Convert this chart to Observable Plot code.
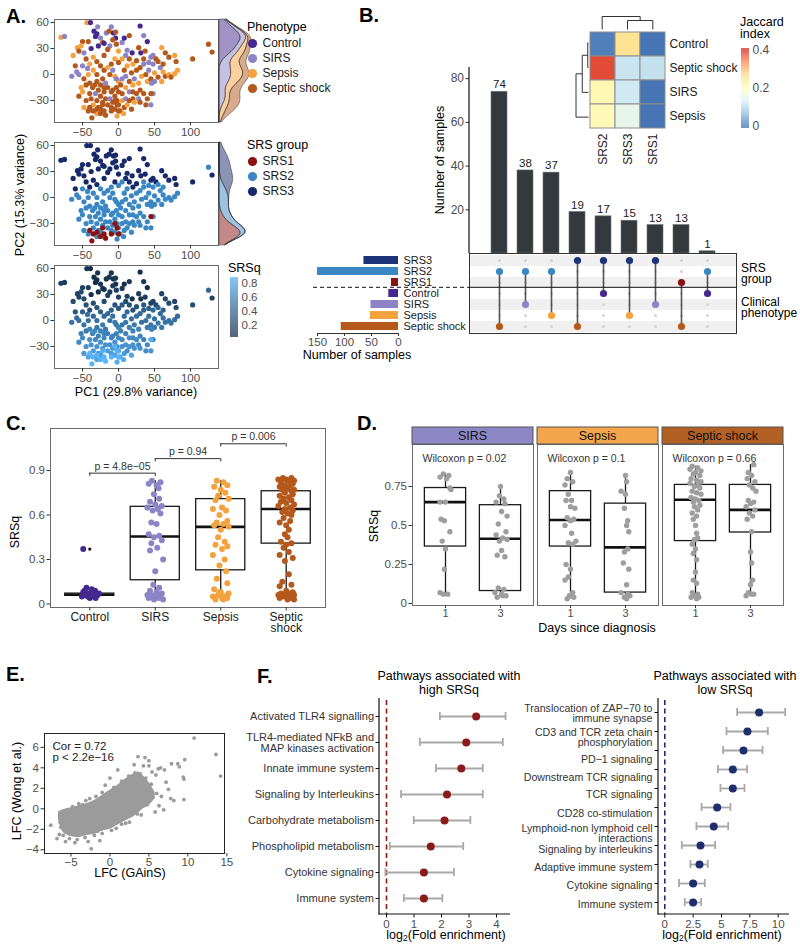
<!DOCTYPE html>
<html><head><meta charset="utf-8">
<script src="https://cdn.jsdelivr.net/npm/d3@7"></script>
<script src="https://cdn.jsdelivr.net/npm/@observablehq/plot@0.6"></script>
<style>
body{margin:0;background:#fff;}
#fig{position:relative;width:800px;height:949px;overflow:hidden;background:#fff;}
</style></head>
<body><div id="fig"></div>
<script>
// ================= DATA =================
const phenoNames = ["Control","SIRS","Sepsis","Septic shock"];
const phenoColors = ["#45288f","#8c84c6","#f4a23e","#b4581c"];
const srsNames = ["SRS1","SRS2","SRS3"];
const srsColors = ["#8c1212","#3b87c3","#17296a"];

// Panel A: PCA coordinates [PC1, PC2, phenotype index, SRS group, SRSq]
const pcaRows = [
[-44,60,2,3,.10],[-39,60,0,3,.04],[-29,55,1,3,.08],[-34,50,0,3,.05],[-30,47,0,3,.06],[-32,44,0,3,.05],[-17,48,1,3,.10],[-13,50,3,3,.12],
[-7,48,0,3,.05],[-4,49,3,3,.14],[-4,42,0,3,.07],[-8,40,3,3,.15],[5,37,1,3,.12],[8,42,0,3,.06],[30,56,0,3,.05],[-80,43,2,3,.20],
[-75,44,1,3,.16],[-50,38,3,3,.20],[-57,31,2,3,.22],[-55,27,3,3,.20],[-52,33,2,3,.24],[-42,38,3,3,.18],[-38,30,0,3,.06],[-28,33,0,3,.06],
[-22,37,3,3,.15],[-20,36,0,3,.05],[-12,33,1,3,.15],[-15,29,3,3,.20],[40,38,0,3,.05],[31,25,0,3,.08],[19,25,0,3,.07],[37,27,3,3,.15],
[28,31,3,3,.18],[12,28,1,3,.18],[0,27,2,3,.20],[45,20,1,3,.22],[48,22,1,3,.20],[60,31,2,3,.20],[65,25,3,3,.25],[78,22,2,3,.22],
[80,15,3,3,.26],[130,26,3,3,.20],[103,18,3,3,.28],[-40,12,2,3,.30],[-30,15,3,3,.30],[20,12,2,3,.30],[-60,10,3,3,.32],[-45,18,3,3,.30],
[-35,20,2,3,.26],[-20,22,3,3,.26],[-5,18,2,3,.30],[15,18,3,3,.30],[25,16,3,3,.30],[-25,42,1,3,.12],[-10,55,1,3,.10],[15,45,3,3,.14],
[52,18,3,3,.25],[70,20,3,3,.24],[-48,25,1,3,.25],[-63,22,2,3,.26],[10,22,1,3,.25],[-3,35,3,3,.18],[35,45,1,3,.12],
[125,35,3,2,.45],[-58,3,1,2,.45],[-43,7,1,2,.50],[-48,-5,3,2,.50],[-45,-12,3,2,.55],[-40,-10,3,2,.60],[-36,-15,3,2,.60],[-33,-12,3,2,.65],
[-30,-8,3,2,.55],[-28,-18,3,2,.60],[-25,-12,3,2,.60],[-22,-5,3,2,.55],[-20,-15,3,2,.60],[-18,-10,1,2,.55],[-35,5,2,2,.45],[-25,10,3,2,.40],
[-20,5,3,2,.45],[-15,8,2,2,.45],[-10,12,3,2,.40],[-8,5,1,2,.50],[-5,-2,2,2,.55],[0,-8,2,2,.60],[-3,-15,3,2,.60],[-10,-20,3,2,.65],
[-5,-25,3,2,.70],[0,-20,3,2,.65],[3,-12,3,2,.60],[5,-5,1,2,.55],[8,5,3,2,.50],[10,-2,1,2,.55],[12,10,2,2,.45],[15,-8,3,2,.60],
[18,2,3,2,.50],[22,-5,1,2,.55],[25,5,3,2,.50],[28,-10,2,2,.60],[30,8,3,2,.45],[32,-2,2,2,.50],[35,12,1,2,.40],[38,0,3,2,.50],
[40,-8,2,2,.55],[42,5,1,2,.50],[45,-5,3,2,.55],[48,12,1,2,.45],[50,2,2,2,.50],[55,-3,3,2,.55],[58,8,1,2,.45],[62,3,2,2,.50],
[65,-2,3,2,.50],[70,0,2,2,.50],[73,-3,3,2,.50],[78,1,2,2,.50],[50,-8,1,2,.55],[46,-10,1,2,.60],[30,-18,3,2,.60],[25,-22,3,2,.65],
[20,-28,3,2,.70],[15,-20,1,2,.65],[10,-15,2,2,.60],[-50,-20,2,2,.65],[-55,0,1,2,.50],[0,14,3,2,.35],[5,18,2,2,.35],[35,18,3,2,.35],
[42,14,1,2,.40],[55,15,3,2,.40],[-65,-2,1,2,.50],[-38,-28,3,2,.70],[-35,-35,2,2,.75],[-30,-30,3,2,.70],[-28,-38,3,2,.75],[-25,-25,3,2,.70],
[-22,-32,3,2,.75],[-18,-28,3,2,.70],[-15,-35,3,2,.75],[-12,-28,1,2,.70],[-10,-38,3,2,.75],[-8,-32,3,2,.70],[-5,-40,3,2,.80],[-2,-30,3,2,.70],
[0,-35,3,2,.75],[2,-42,3,2,.80],[5,-30,2,2,.70],[8,-38,3,2,.75],[10,-28,1,2,.70],[12,-35,2,2,.70],[15,-30,3,2,.70],[20,-20,3,2,.65],
[22,-32,2,2,.70],[-40,-22,3,2,.70],[-45,-30,3,2,.70],[-48,-38,2,2,.75],[-42,-42,3,2,.80],[-55,-25,3,2,.65],[-52,-15,2,2,.60],[-2,-48,2,2,.85],
[5,-22,3,2,.65],[35,-22,3,2,.60],[40,-28,3,2,.65],[38,-35,3,2,.65],[48,-22,1,2,.60],[28,-28,1,2,.65],[-32,-22,1,2,.65],[-20,-20,3,2,.65],
[-15,-15,3,2,.60],[-8,-18,3,2,.60],[-3,-5,1,2,.55],[-12,0,3,2,.50],[20,-12,2,2,.60],[-30,0,3,2,.50],[-42,0,2,2,.50],[60,-8,2,2,.55],
[82,5,2,2,.45],[-25,-40,3,2,.75],[-30,-45,2,2,.80],[18,-40,3,2,.80],[30,-32,3,2,.70],[7,-45,2,2,.85],[62,12,3,2,.40],[-50,10,1,2,.40],[45,-35,1,2,.70],
[-37,-50,3,1,.90],[-35,-42,3,1,.88],[-30,-40,3,1,.88],[-25,-45,3,1,.90],[-20,-42,3,1,.90],[-18,-47,3,1,.92],[-22,-35,3,1,.87],
[-10,-42,3,1,.90],[-5,-30,3,1,.88],[-2,-35,3,1,.88],[0,-42,3,1,.90],[45,-22,3,1,.86],[-40,-38,3,1,.90]
];
const aTicksX = [-50,0,50,100];
const aTicksY = [-30,0,30,60];
const srsqTicks = [0.2,0.4,0.6,0.8];

// Panel B: Jaccard heatmap
const jacCols = ["SRS2","SRS3","SRS1"];
const jacRows = ["Control","Septic shock","SIRS","Sepsis"];
const jacValues = [[0.01,0.26,0.0],[0.38,0.115,0.11],[0.215,0.12,0.0],[0.21,0.15,0.0]];
const jacStops = [0,0.0667,0.1333,0.2,0.2667,0.3333,0.4];
const jacPalette = ["#4575b4","#91bfdb","#e0f3f8","#ffffbf","#fee090","#fc8d59","#d73027"];
const jacTicks = [0,0.2,0.4];
const colMerges = [[1,2,0.69],[0,3,1]];          // leaves SRS2,SRS3,SRS1
const rowMerges = [[2,3,0.06],[1,4,0.5],[0,5,1]]; // leaves Control,Septic shock,SIRS,Sepsis

// Panel B: UpSet
const upsetCounts = [74,38,37,19,17,15,13,13,1];
const upsetSRS = ["SRS2","SRS2","SRS2","SRS3","SRS3","SRS3","SRS3","SRS1","SRS2"];
const upsetPheno = ["Septic shock","SIRS","Sepsis","Septic shock","Control","Sepsis","SIRS","Septic shock","Control"];
const setRows = ["SRS3","SRS2","SRS1","Control","SIRS","Sepsis","Septic shock"];
const setSizes = [64,150,13,18,51,52,106];
const setColors = ["#1d3378","#3b87c3","#8c1212","#45288f","#8c84c6","#f4a23e","#b4581c"];
const stripeRows = ["SRS3","SRS1","SIRS","Septic shock"];
const upsetTicks = [20,40,60,80];
const setTicks = [150,100,50,0];

// Panel C: SRSq by phenotype  [value, jitter]
const cControl = [[0.37,-0.1],[0.11,-0.05],[0.10,0.03],[0.09,0.08],[0.08,-0.1],[0.08,0.05],[0.07,-0.02],[0.07,0.1],[0.06,-0.07],[0.06,0.02],[0.06,0.12],[0.05,-0.03],[0.05,0.06],[0.05,-0.12],[0.04,0.0],[0.04,0.09],[0.07,0.14],[0.09,-0.08]];
const cSIRS = [[0.83,-0.05],[0.82,0.08],[0.81,-0.1],[0.80,0.02],[0.78,0.05],[0.74,-0.02],[0.71,0.06],[0.69,-0.08],[0.67,0.0],[0.66,0.1],[0.65,-0.12],[0.64,0.04],[0.63,-0.04],[0.61,0.08],[0.55,-0.06],[0.54,0.02],[0.47,-0.1],[0.46,0.06],[0.45,-0.02],[0.43,0.1],[0.41,-0.06],[0.38,0.03],[0.36,-0.08],[0.30,0.12],[0.22,0.0],[0.13,-0.03],[0.11,0.06],[0.09,-0.08],[0.08,0.02],[0.07,0.1],[0.06,-0.12],[0.06,0.05],[0.05,-0.04],[0.05,0.08],[0.04,0.0],[0.04,-0.1],[0.03,0.12],[0.03,-0.02],[0.04,0.06],[0.06,-0.06]];
const cSepsis = [[0.83,-0.06],[0.82,0.04],[0.80,0.1],[0.79,-0.1],[0.77,0.0],[0.75,0.07],[0.73,-0.04],[0.71,0.12],[0.70,-0.08],[0.65,0.02],[0.64,-0.12],[0.63,0.08],[0.60,-0.02],[0.56,0.1],[0.55,-0.06],[0.54,0.04],[0.53,-0.1],[0.52,0.12],[0.50,0.0],[0.45,-0.04],[0.42,0.06],[0.40,-0.08],[0.39,0.1],[0.37,0.02],[0.33,-0.12],[0.30,0.06],[0.26,-0.02],[0.22,0.08],[0.17,-0.06],[0.14,0.1],[0.10,-0.1],[0.08,0.0],[0.07,0.12],[0.06,-0.04],[0.05,0.06],[0.05,-0.12],[0.04,0.02],[0.04,0.1],[0.03,-0.08],[0.03,0.04],[0.06,0.1],[0.08,-0.02]];
const cShock = [[0.85,-0.05],[0.85,0.08],[0.84,0.0],[0.84,-0.12],[0.83,0.12],[0.83,0.04],[0.82,-0.08],[0.81,0.1],[0.80,-0.02],[0.80,0.06],[0.79,-0.1],[0.78,0.02],[0.77,0.12],[0.77,-0.06],[0.76,0.08],[0.75,-0.02],[0.74,0.1],[0.73,-0.1],[0.72,0.04],[0.71,-0.04],[0.70,0.08],[0.69,-0.08],[0.68,0.0],[0.67,0.12],[0.66,-0.12],[0.65,0.06],[0.64,-0.02],[0.63,0.1],[0.62,-0.06],[0.61,0.02],[0.60,0.08],[0.58,-0.04],[0.56,0.06],[0.55,-0.1],[0.53,0.0],[0.50,0.04],[0.47,-0.02],[0.45,0.02],[0.42,-0.08],[0.41,0.08],[0.40,0.0],[0.38,-0.04],[0.35,0.04],[0.33,-0.1],[0.31,0.1],[0.29,-0.02],[0.20,0.04],[0.15,-0.06],[0.13,0.08],[0.12,-0.1],[0.09,0.0],[0.08,0.1],[0.07,-0.08],[0.07,0.04],[0.06,-0.12],[0.06,0.12],[0.05,0.0],[0.05,-0.04],[0.04,0.08],[0.04,-0.1],[0.03,0.02],[0.03,0.12],[0.05,0.06],[0.06,-0.02]];
const cLo = [0.04,0.02,0.02,0.02];
const cQ1 = [0.055,0.16,0.227,0.407];
const cMed = [0.062,0.455,0.52,0.64];
const cQ3 = [0.07,0.655,0.707,0.76];
const cHi = [0.09,0.83,0.83,0.85];
const cOutliers = [[0,0.37]];
const cBrackets = [[1,2,0.882,"p = 4.8e−05"],[2,3,0.98,"p = 0.94"],[3,4,1.08,"p = 0.006"]];
const cTicks = [0,0.3,0.6,0.9];

// Panel D: SRSq by day since diagnosis  [value, jitter]
const dFacets = ["SIRS","Sepsis","Septic shock"];
const dStripColors = ["#8e87c6","#f3a64b","#b26024"];
const dWilcox = ["Wilcoxon p = 0.02","Wilcoxon p = 0.1","Wilcoxon p = 0.66"];
const dDays = ["1","3"];
const dPoints = [
 [ // SIRS
  [[0.83,-0.04],[0.82,0.06],[0.81,-0.1],[0.80,0.02],[0.74,0.08],[0.73,0.1],[0.65,-0.1],[0.65,0.0],[0.54,-0.08],[0.53,-0.02],[0.46,0.08],[0.40,-0.06],[0.35,0.0],[0.22,-0.02],[0.07,-0.1],[0.06,0.04],[0.06,-0.04]],
  [[0.75,0.0],[0.69,-0.02],[0.67,0.06],[0.65,-0.08],[0.64,0.08],[0.59,0.02],[0.56,0.12],[0.51,-0.04],[0.46,0.1],[0.44,-0.08],[0.42,0.04],[0.41,0.12],[0.40,-0.02],[0.34,0.02],[0.31,-0.06],[0.30,0.08],[0.10,-0.04],[0.09,0.06],[0.07,-0.1],[0.06,0.02],[0.05,0.1],[0.04,-0.06],[0.05,0.04]]
 ],
 [ // Sepsis
  [[0.84,0.0],[0.80,-0.06],[0.78,0.04],[0.76,-0.1],[0.70,-0.04],[0.66,0.02],[0.66,-0.08],[0.62,0.0],[0.61,0.08],[0.55,-0.06],[0.54,0.06],[0.53,0.0],[0.50,-0.1],[0.45,0.02],[0.40,0.1],[0.39,-0.04],[0.38,0.04],[0.25,-0.08],[0.22,0.0],[0.17,-0.04],[0.15,-0.1],[0.07,0.04],[0.05,-0.02],[0.04,0.06],[0.03,-0.06]],
  [[0.82,0.0],[0.78,0.02],[0.72,-0.08],[0.70,0.0],[0.61,-0.02],[0.53,0.04],[0.50,0.02],[0.46,0.06],[0.35,0.04],[0.33,-0.02],[0.26,-0.04],[0.22,0.06],[0.12,0.02],[0.07,-0.08],[0.06,0.04],[0.05,0.08],[0.04,-0.02],[0.03,0.02]]
 ],
 [ // Septic shock
  [[0.88,-0.06],[0.87,0.04],[0.86,-0.1],[0.85,0.1],[0.84,0.0],[0.83,-0.04],[0.82,0.08],[0.80,-0.08],[0.79,0.02],[0.78,0.1],[0.77,-0.1],[0.76,0.04],[0.75,-0.02],[0.74,0.08],[0.72,-0.06],[0.71,0.02],[0.70,0.1],[0.68,-0.08],[0.67,0.0],[0.66,0.06],[0.65,-0.04],[0.63,0.08],[0.62,-0.02],[0.60,0.04],[0.58,-0.06],[0.56,0.02],[0.54,-0.04],[0.50,0.0],[0.45,0.02],[0.42,0.04],[0.41,-0.02],[0.38,-0.06],[0.35,0.0],[0.32,-0.04],[0.28,0.02],[0.20,0.0],[0.15,-0.04],[0.13,0.02],[0.07,-0.06],[0.06,0.04],[0.05,-0.02],[0.04,0.06],[0.04,-0.08],[0.03,0.02]],
  [[0.89,0.06],[0.84,-0.04],[0.82,0.02],[0.80,-0.06],[0.78,0.08],[0.76,-0.02],[0.74,0.04],[0.72,0.1],[0.66,-0.04],[0.65,0.06],[0.64,0.0],[0.62,-0.08],[0.60,0.08],[0.58,-0.02],[0.56,0.04],[0.54,-0.06],[0.46,0.02],[0.33,0.0],[0.26,0.02],[0.15,0.04],[0.12,0.0],[0.07,-0.04],[0.06,0.06],[0.06,0.02],[0.05,-0.08]]
 ]
];
// box stats per facet: [lo, q1, med, q3, hi] for day 1 and day 3
const dBoxes = [
 [[0.05,0.365,0.65,0.74,0.83],[0.04,0.08,0.415,0.63,0.755]],
 [[0.03,0.365,0.535,0.72,0.84],[0.03,0.07,0.36,0.64,0.82]],
 [[0.03,0.40,0.665,0.76,0.88],[0.05,0.455,0.60,0.76,0.89]]
];
const dTicks = [0,0.25,0.5,0.75];

// Panel E: LFC comparison
const eCloudX  = [-6.6,-6.0,-5.0,-4.0,-3.0,-2.0,-1.0,0.0,1.0,2.0,3.0,3.7,4.3,5.0,5.8];
const eCloudLo = [-1.0,-2.3,-2.7,-2.8,-2.6,-2.5,-2.2,-2.0,-1.6,-1.2,-0.8,-0.4,0.0,0.3,1.0];
const eCloudHi = [-0.3,-0.1,0.1,0.3,0.5,0.8,1.3,1.8,2.3,2.9,3.4,3.6,3.2,2.6,1.6];
const ePoints = [[10.8,6.9],[13.6,5.3],[14.2,3.2],[9.6,4.8],[9.4,3.1],[9.5,2.9],[9.5,0.9],[8.7,4.4],[8.9,4.1],[7.9,4.4],[7.5,1.9],[7.8,1.0],[8.2,0.8],[6.9,-0.1],[5.8,-0.3],
 [3.6,5.1],[4.5,5.0],[5.0,4.7],[3.1,4.3],[4.3,4.2],[5.0,4.2],[6.2,3.9],[6.5,4.0],[7.0,3.8],[1.0,3.8],[0.0,3.0],[-0.6,2.3],[-3.1,0.8],[-7.6,-1.6],[-6.4,-1.3],
 [-6.5,-2.5],[-6.8,-2.9],[-5.7,-3.2],[-4.5,-3.3],[-1.3,-3.1],[-2.4,-3.9],[-1.6,-2.2],[6.0,1.5],[6.6,1.2],[5.4,3.6],[5.9,3.3],[7.2,2.6],[2.5,-1.3],[4.0,-0.6],[6.3,0.3],
 [-6.2,-0.4],[-5.5,-0.1],[-4.8,0.2],[-4.0,0.5],[-3.5,0.4],[-2.6,1.0],[-1.8,1.2],[-1.0,1.6],[0.5,2.1],[1.5,2.7],[2.4,3.2],[3.2,3.5],[3.9,3.4],[4.6,3.0],[5.3,2.4],
 [5.5,1.1],[4.8,0.4],[3.5,-0.5],[1.5,-1.5],[0.2,-2.1],[-1.0,-2.4],[-2.0,-2.6],[-3.2,-2.8],[-4.2,-3.0],[-5.2,-2.9],[-6.0,-2.6],[-6.3,-1.8],[-2.8,-3.2],[0.8,-1.9],[2.0,-1.4]];
const eTicksX = [-5,0,5,10,15];
const eTicksY = [-4,-2,0,2,4,6];

// Panel F: pathway enrichment
const highPaths = ["Activated TLR4 signalling","TLR4-mediated NFkB and\nMAP kinases activation","Innate immune system","Signaling by Interleukins","Carbohydrate metabolism","Phospholipid metabolism","Cytokine signaling","Immune system"];
const highFE = [3.26,2.90,2.72,2.20,2.11,1.61,1.36,1.36];
const highLo = [1.94,1.21,1.80,0.53,0.99,0.12,-0.04,0.63];
const highHi = [4.33,4.23,3.50,3.50,3.05,2.79,2.45,2.03];
const lowPaths = ["Translocation of ZAP−70 to\nimmune synapse","CD3 and TCR zeta chain\nphosphorylation","PD−1 signaling","Downstream TCR signaling","TCR signaling","CD28 co-stimulation","Lymphoid-non lymphoid cell\ninteractions","Signaling by interleukins","Adaptive immune system","Cytokine signaling","Immune system"];
const lowLabelShift = [1,6,9,8,6,6,7,4,3,2,2];  // label offset (px) seen in the reference
const lowFE = [8.32,7.29,6.94,6.00,6.00,4.62,4.32,3.15,3.06,2.50,2.50];
const lowLo = [6.38,5.44,5.15,4.68,4.91,3.24,2.79,1.50,2.26,1.26,1.76];
const lowHi = [10.62,9.09,8.62,7.26,7.03,5.79,5.59,4.44,3.79,3.53,3.20];
const highTicks = [0,1,2,3,4];
const lowTicks = [0,2.5,5,7.5,10];

// ================= HELPERS =================
const W = 800, H = 949;
const FONT = '"Liberation Sans", Arial, sans-serif';
const fig = document.getElementById("fig");
function P(rect, opts) {
  const [l, t, r, b] = rect;
  const svg = Plot.plot({
    width: W, height: H,
    marginLeft: l, marginTop: t, marginRight: W - r, marginBottom: H - b,
    style: {position: "absolute", left: "0px", top: "0px", background: "transparent", overflow: "visible",
            maxWidth: "none", fontFamily: FONT, fontSize: "11px", color: "#4d4d4d", pointerEvents: "none"},
    ...opts
  });
  fig.appendChild(svg);
  return svg;
}
const str = d => String(d);

// ================= PANEL A =================
const pca = pcaRows.map(([x, y, p, s, q]) => ({x, y, pheno: phenoNames[p], srs: srsNames[s - 1], srsq: q}));
const aDomX = [-88.9, 138.9], aDomY = [-55.4, 63.5];
const aRects = [[54,19,218,122],[54,142,218,245],[54,265,218,368]];
const phenoColor = {domain: phenoNames, range: phenoColors};
const srsColor = {domain: srsNames, range: srsColors};
const srsqColor = {type: "linear", domain: [0.03, 0.88], range: ["#132B43", "#56B1F7"], interpolate: "lab"};
aRects.forEach((rect, i) => {
  const fill = i === 0 ? "pheno" : i === 1 ? "srs" : "srsq";
  const color = i === 0 ? phenoColor : i === 1 ? srsColor : srsqColor;
  P(rect, {
    x: {domain: aDomX}, y: {domain: aDomY}, color,
    marks: [
      Plot.frame({stroke: "#6b6b6b"}),
      Plot.dot(pca, {x: "x", y: "y", fill, r: 2.6}),
      Plot.axisX({ticks: aTicksX, tickSize: 3.5, tickPadding: 2, fontSize: 11.5, label: null, stroke: "#333", fill: "#4d4d4d"}),
      Plot.axisY({ticks: aTicksY, tickSize: 3.5, tickPadding: 2, fontSize: 11.5, label: null, stroke: "#333", fill: "#4d4d4d"})
    ]
  });
});
// marginal densities (kernel density of PC2 by group)
const densGrid = d3.range(-55, 63.6, 0.8);
function densRows(key, groups, bw) {
  const rows = [];
  for (const g of groups) {
    const ys = pca.filter(d => d[key] === g).map(d => d.y);
    for (const y of densGrid) rows.push({g, y, d: d3.mean(ys, v => Math.exp(-0.5 * ((y - v) / bw) ** 2)) / (bw * Math.sqrt(2 * Math.PI))});
  }
  return rows;
}
[[0, "pheno", phenoNames, phenoColor], [1, "srs", srsNames, srsColor]].forEach(([i, key, groups, color]) => {
  const rows = densRows(key, groups, 7);
  const [l, t, r, b] = aRects[i];
  P([219, t, 240, b], {
    x: {domain: [0, d3.max(rows, d => d.d)], axis: null}, y: {domain: aDomY, axis: null}, color,
    marks: [Plot.areaX(rows, {y: "y", x: "d", fill: "g", fillOpacity: 0.5, stroke: "#222", strokeWidth: 0.5, curve: "basis"})]
  });
});
// legends
P([247,35,257,95], {y: {type: "point", domain: phenoNames, range: [42, 88], padding: 0, axis: null}, color: phenoColor,
  marks: [Plot.dot(phenoNames, {y: d => d, fill: d => d, r: 4.6}),
          Plot.text(phenoNames, {y: d => d, text: d => d, dx: 10, textAnchor: "start", fontSize: 12, fill: "#1a1a1a"})]});
P([247,155,257,197], {y: {type: "point", domain: srsNames, range: [161, 191], padding: 0, axis: null}, color: srsColor,
  marks: [Plot.dot(srsNames, {y: d => d, fill: d => d, r: 4.6}),
          Plot.text(srsNames, {y: d => d, text: d => d, dx: 10, textAnchor: "start", fontSize: 12, fill: "#1a1a1a"})]});
const srsqStops = d3.range(0.03, 0.88, 0.00425);
P([230,277,238,337], {x: {domain: [0, 1], axis: null}, y: {domain: [0.03, 0.88]}, color: srsqColor,
  marks: [Plot.rect(srsqStops, {x1: 0, x2: 1, y1: d => d, y2: d => Math.min(0.88, d + 0.0045), fill: d => d}),
          Plot.axisY({anchor: "right", ticks: srsqTicks, tickSize: 0, tickPadding: 3, fontSize: 11.5, label: null, fill: "#4d4d4d"})]});

// ================= PANEL B: heatmap =================
const jac = jacRows.flatMap((r, i) => jacCols.map((c, j) => ({r, c, v: jacValues[i][j]})));
const jacColor = {type: "linear", domain: jacStops, range: jacPalette};
P([589,30,665,129], {
  x: {type: "band", domain: jacCols, padding: 0}, y: {type: "band", domain: jacRows, padding: 0}, color: jacColor,
  marks: [
    Plot.cell(jac, {x: "c", y: "r", fill: "v", stroke: "#8e8e8e", strokeWidth: 1, inset: 0}),
    Plot.axisY({anchor: "right", tickSize: 0, tickPadding: 4, fontSize: 12, fill: "#1a1a1a", label: null}),
    Plot.axisX({anchor: "bottom", tickSize: 0, tickPadding: 4, tickRotate: -90, fontSize: 12, fill: "#1a1a1a", label: null})
  ]
});
function dendro(n, merges) {
  const pos = d3.range(n).map(i => i + 0.5), hgt = d3.range(n).map(() => 0), segs = [];
  for (const [a, b, h] of merges) {
    segs.push({p1: pos[a], h1: hgt[a], p2: pos[a], h2: h});
    segs.push({p1: pos[b], h1: hgt[b], p2: pos[b], h2: h});
    segs.push({p1: pos[a], h1: h, p2: pos[b], h2: h});
    pos.push((pos[a] + pos[b]) / 2); hgt.push(h);
  }
  return segs;
}
P([589,14,665,29], {x: {domain: [0, 3], axis: null}, y: {domain: [0, 1], range: [29, 16], axis: null},
  marks: [Plot.link(dendro(3, colMerges), {x1: "p1", y1: "h1", x2: "p2", y2: "h2", stroke: "#333", strokeWidth: 1})]});
P([575,30,589,129], {y: {domain: [0, 4], axis: null}, x: {domain: [0, 1], range: [588, 575.5], axis: null},
  marks: [Plot.link(dendro(4, rowMerges), {y1: "p1", x1: "h1", y2: "p2", x2: "h2", stroke: "#333", strokeWidth: 1})]});
const jacLegStops = d3.range(-0.0105, 0.4105, 0.002);
P([741,48,749,128], {x: {domain: [0, 1], axis: null}, y: {domain: [-0.0105, 0.4105]}, color: jacColor,
  marks: [Plot.rect(jacLegStops, {x1: 0, x2: 1, y1: d => d, y2: d => Math.min(0.4105, d + 0.0022), fill: d => Math.max(0, Math.min(0.4, d))}),
          Plot.axisY({anchor: "right", ticks: jacTicks, tickSize: 0, tickPadding: 3, fontSize: 12, label: null, tickFormat: str, fill: "#4d4d4d"})]});

// ================= PANEL B: UpSet =================
const upIdx = d3.range(upsetCounts.length);
P([469,67,736,253], {
  x: {type: "band", domain: upIdx, paddingInner: 0.4, paddingOuter: 0.713, axis: null}, y: {domain: [0, 85.1]},
  marks: [
    Plot.barY(upsetCounts, {x: (d, i) => i, y: d => d, fill: "#33393c", stroke: "#6f7375", strokeWidth: 0.6}),
    Plot.text(upsetCounts, {x: (d, i) => i, y: d => d, text: d => d, dy: -7, fontSize: 11.5, fill: "#1a1a1a"}),
    Plot.ruleY([0], {stroke: "#111", strokeWidth: 1.2}),
    Plot.axisY({ticks: upsetTicks, tickSize: 3.5, tickPadding: 2, fontSize: 12, label: null, stroke: "#333", fill: "#4d4d4d"})
  ]
});
P([469,253,736,333], {x: {domain: [0, 1], axis: null}, y: {type: "band", domain: setRows, padding: 0, axis: null},
  marks: [Plot.barX(stripeRows, {y: d => d, x1: 0, x2: 1, fill: "#f0f0f0"})]});
const setColor = {domain: setRows, range: setColors};
const cross = setRows.flatMap(r => upIdx.map(i => ({r, i})));
const active = upIdx.flatMap(i => [{r: upsetSRS[i], i}, {r: upsetPheno[i], i}]);
P([469,253,736,333], {
  x: {type: "point", domain: upIdx, padding: 1.013, axis: null}, y: {type: "point", domain: setRows, padding: 0.5, axis: null}, color: setColor,
  marks: [
    Plot.frame({stroke: "#333"}),
    Plot.dot(cross, {x: "i", y: "r", r: 1.5, fill: "#d2d2d2"}),
    Plot.ruleX(upIdx, {x: i => i, y1: i => upsetSRS[i], y2: i => upsetPheno[i], stroke: "#555", strokeWidth: 1.6}),
    Plot.dot(active, {x: "i", y: "r", r: 3.6, fill: "r"})
  ]
});
P([300,253,398,333], {
  x: {domain: [0, 150], range: [398, 317]}, y: {type: "band", domain: setRows, paddingInner: 0.28, paddingOuter: 0.14, axis: null}, color: setColor,
  marks: [
    Plot.barX(setRows, {y: d => d, x: (d, i) => setSizes[i], fill: d => d}),
    Plot.text(setRows, {y: d => d, x: 0, text: d => d, dx: 5, textAnchor: "start", fontSize: 11, fill: "#1a1a1a"}),
    Plot.axisX({anchor: "bottom", ticks: setTicks, tickSize: 3, tickPadding: 1, fontSize: 11.5, label: null, stroke: "#333", fill: "#4d4d4d"})
  ]
});

// ================= PANEL C =================
const cGroups = [cControl, cSIRS, cSepsis, cShock];
const cPts = cGroups.flatMap((g, k) => g.map(([v, j]) => ({k, v, j, pheno: phenoNames[k]})));
const cCats = d3.range(4);
P([50,428,325,607], {
  x: {domain: [0.4, 4.6]}, y: {domain: [-0.0236, 1.183]}, color: phenoColor,
  marks: [
    Plot.frame({stroke: "#6b6b6b"}),
    Plot.ruleX(cCats, {x: k => k + 1, y1: k => cLo[k], y2: k => cQ1[k], stroke: "#1a1a1a", strokeWidth: 1.3}),
    Plot.ruleX(cCats, {x: k => k + 1, y1: k => cQ3[k], y2: k => cHi[k], stroke: "#1a1a1a", strokeWidth: 1.3}),
    Plot.rect(cCats, {x1: k => k + 0.625, x2: k => k + 1.375, y1: k => cQ1[k], y2: k => cQ3[k], fill: "white", stroke: "#1a1a1a", strokeWidth: 1.3}),
    Plot.ruleY(cCats, {y: k => cMed[k], x1: k => k + 0.625, x2: k => k + 1.375, stroke: "#111", strokeWidth: 2.6}),
    Plot.dot(cOutliers, {x: d => d[0] + 1, y: d => d[1], r: 1.6, fill: "#111"}),
    Plot.dot(cPts, {x: d => d.k + 1 + d.j, y: "v", fill: "pheno", r: 3}),
    Plot.ruleY(cBrackets, {y: d => d[2], x1: d => d[0], x2: d => d[1], stroke: "#333", strokeWidth: 1}),
    Plot.ruleX(cBrackets, {x: d => d[0], y1: d => d[2] - 0.022, y2: d => d[2], stroke: "#333", strokeWidth: 1}),
    Plot.ruleX(cBrackets, {x: d => d[1], y1: d => d[2] - 0.022, y2: d => d[2], stroke: "#333", strokeWidth: 1}),
    Plot.text(cBrackets, {x: d => (d[0] + d[1]) / 2, y: d => d[2], text: d => d[3], dy: -7, fontSize: 10.5, fill: "#333"}),
    Plot.axisY({ticks: cTicks, tickFormat: str, tickSize: 3.5, tickPadding: 2, fontSize: 11.5, label: null, stroke: "#333", fill: "#4d4d4d"}),
    Plot.axisX({ticks: [1, 2, 3, 4], tickFormat: k => ["Control", "SIRS", "Sepsis", "Septic\nshock"][k - 1], tickSize: 3.5, tickPadding: 2, fontSize: 12, fill: "#1a1a1a", label: null, stroke: "#333", lineHeight: 0.95})
  ]
});

// ================= PANEL D =================
const dRects = [[412,444,533,605],[537,444,658,605],[662,444,783,605]];
dRects.forEach((rect, f) => {
  const pts = dPoints[f].flatMap((g, k) => g.map(([v, j]) => ({k, v, j})));
  const bx = dBoxes[f].map((s, k) => ({k, lo: s[0], q1: s[1], med: s[2], q3: s[3], hi: s[4]}));
  const marks = [
    Plot.frame({stroke: "#6b6b6b"}),
    Plot.ruleX(bx, {x: d => d.k + 1, y1: "lo", y2: "q1", stroke: "#1a1a1a", strokeWidth: 1.3}),
    Plot.ruleX(bx, {x: d => d.k + 1, y1: "q3", y2: "hi", stroke: "#1a1a1a", strokeWidth: 1.3}),
    Plot.rect(bx, {x1: d => d.k + 0.625, x2: d => d.k + 1.375, y1: "q1", y2: "q3", fill: "white", stroke: "#1a1a1a", strokeWidth: 1.3}),
    Plot.ruleY(bx, {y: "med", x1: d => d.k + 0.625, x2: d => d.k + 1.375, stroke: "#111", strokeWidth: 2.6}),
    Plot.dot(pts, {x: d => d.k + 1 + d.j, y: "v", fill: "#9e9e9e", r: 2.7}),
    Plot.text([dWilcox[f]], {text: d => d, frameAnchor: "top-left", dx: 10, dy: 14, fontSize: 10.5, fill: "#333", lineAnchor: "middle"}),
    Plot.axisX({ticks: [1, 2], tickFormat: k => dDays[k - 1], tickSize: 3, tickPadding: 1, fontSize: 11, label: null, stroke: "#333", fill: "#4d4d4d"})
  ];
  if (f === 0) marks.push(Plot.axisY({ticks: dTicks, tickFormat: str, tickSize: 3.5, tickPadding: 2, fontSize: 11.5, label: null, stroke: "#333", fill: "#4d4d4d"}));
  P(rect, {x: {domain: [0.4, 2.6]}, y: {domain: [-0.0128, 1.019], axis: f === 0 ? undefined : null}, marks});
});

// ================= PANEL E =================
const eCloud = eCloudX.map((x, i) => ({x, lo: eCloudLo[i], hi: eCloudHi[i]}));
P([44,733,224,853], {
  x: {domain: [-8.4, 14.7]}, y: {domain: [-4.36, 7.35]},
  marks: [
    Plot.areaY(eCloud, {x: "x", y1: "lo", y2: "hi", fill: "#9b9b9b", curve: "catmull-rom"}),
    Plot.dot(ePoints, {x: d => d[0], y: d => d[1], r: 1.9, fill: "#9b9b9b"}),
    Plot.frame({stroke: "#222"}),
    Plot.text(["Cor = 0.72\np < 2.2e−16"], {text: d => d, frameAnchor: "top-left", dx: 8, dy: 8, lineAnchor: "top", textAnchor: "start", fontSize: 11.5, fill: "#222", lineHeight: 0.98}),
    Plot.axisX({ticks: eTicksX, tickSize: 3.5, tickPadding: 1, fontSize: 11.5, label: null, stroke: "#333", fill: "#4d4d4d"}),
    Plot.axisY({ticks: eTicksY, tickSize: 3.5, tickPadding: 2, fontSize: 11.5, label: null, stroke: "#333", fill: "#4d4d4d"})
  ]
});

// ================= PANEL F =================
function forest(rect, names, fe, lo, hi, xdom, ticks, color, pi, po, shifts) {
  const rows = names.map((n, i) => ({n, fe: fe[i], lo: lo[i], hi: hi[i]}));
  const marks = [
    Plot.ruleX([0], {stroke: color, strokeDasharray: "5,3.5", strokeWidth: 1.6}),
    Plot.ruleY(rows, {y: "n", x1: "lo", x2: "hi", stroke: "#a8a8a8", strokeWidth: 1.8}),
    Plot.tickX(rows, {y: "n", x: "lo", stroke: "#a8a8a8", strokeWidth: 1.8}),
    Plot.tickX(rows, {y: "n", x: "hi", stroke: "#a8a8a8", strokeWidth: 1.8}),
    Plot.dot(rows, {y: "n", x: "fe", r: 4, fill: color}),
    Plot.axisX({ticks, tickFormat: str, tickSize: 3.5, tickPadding: 2, fontSize: 11.5, fill: "#4d4d4d", stroke: "#111", label: null})
  ];
  if (shifts) {
    marks.push(Plot.axisY({tickSize: 3.5, tickFormat: () => "", stroke: "#111", label: null}));
    rows.forEach((r, i) => marks.push(Plot.text([r], {y: "n", text: "n", frameAnchor: "left", dx: -6, dy: shifts[i],
      textAnchor: "end", fontSize: 10.6, fill: "#333", lineHeight: 0.93})));
  } else {
    marks.push(Plot.axisY({tickSize: 3.5, tickPadding: 2, fontSize: 11, fill: "#333", stroke: "#111", label: null}));
  }
  P(rect, {x: {domain: xdom}, y: {type: "band", domain: names, paddingInner: pi, paddingOuter: po}, marks});
}
forest([379,700,510,914], highPaths, highFE, highLo, highHi, [-0.2545, 4.509], highTicks, "#8b1a1a", 0.7, 0.357, null);
forest([658,700,789,914], lowPaths, lowFE, lowLo, lowHi, [-0.556, 11.0], lowTicks, "#1f2f6e", 0.583, 0.365, lowLabelShift);

// ================= OVERLAY: titles, strips, axis lines =================
const ov = d3.select(fig).append("svg").attr("width", W).attr("height", H)
  .style("position", "absolute").style("left", "0px").style("top", "0px").style("font-family", FONT);
function T(s, x, y, o = {}) {
  const t = ov.append("text").attr("x", x).attr("y", y).attr("dominant-baseline", "central")
    .attr("text-anchor", o.anchor || "start").attr("font-size", o.size || 12.5).attr("fill", o.fill || "#000").text(s);
  if (o.bold) t.attr("font-weight", "bold");
  if (o.rot) t.attr("transform", `rotate(${o.rot},${x},${y})`);
  return t;
}
function L(x1, y1, x2, y2, o = {}) {
  ov.append("line").attr("x1", x1).attr("y1", y1).attr("x2", x2).attr("y2", y2)
    .attr("stroke", o.stroke || "#111").attr("stroke-width", o.w || 1).attr("stroke-dasharray", o.dash || null);
}
// panel letters
T("A.", 6, 16, {bold: true, size: 20});
T("B.", 359, 15, {bold: true, size: 20});
T("C.", 6, 423, {bold: true, size: 20});
T("D.", 357, 423, {bold: true, size: 20});
T("E.", 6, 674, {bold: true, size: 20});
T("F.", 257, 676, {bold: true, size: 20});
// A
T("PC2 (15.3% variance)", 20, 195, {anchor: "middle", rot: -90});
T("PC1 (29.8% variance)", 136, 392, {anchor: "middle"});
T("Phenotype", 247, 27, {size: 12.5});
T("SRS group", 247, 145, {size: 12.5});
T("SRSq", 228, 268, {size: 12.5});
// B
T("Jaccard", 740, 22, {size: 12.5});
T("index", 740, 34, {size: 12.5});
T("Number of samples", 440, 160, {anchor: "middle", rot: -90});
T("Number of samples", 357, 355, {anchor: "middle"});
T("SRS", 741, 268, {size: 12}); T("group", 741, 279, {size: 12});
T("Clinical", 741, 302, {size: 12}); T("phenotype", 741, 313, {size: 12});
L(469, 67, 469, 253, {w: 1.2});
L(313, 287.3, 469, 287.3, {dash: "4,3", w: 1});
L(469, 287.3, 736, 287.3, {w: 1});
L(317, 333.5, 398, 333.5, {w: 1, stroke: "#333"});
// C, D
T("SRSq", 15, 532, {anchor: "middle", rot: -90});
T("SRSq", 374, 526, {anchor: "middle", rot: -90});
T("Days since diagnosis", 597, 628, {anchor: "middle"});
dRects.forEach((r, f) => {
  ov.append("rect").attr("x", r[0]).attr("y", 427).attr("width", r[2] - r[0]).attr("height", 17)
    .attr("fill", dStripColors[f]).attr("stroke", "#555").attr("stroke-width", 1);
  T(dFacets[f], (r[0] + r[2]) / 2, 436, {anchor: "middle", size: 12.5, fill: "#111"});
});
// E
T("LFC (GAinS)", 130, 873, {anchor: "middle"});
T("LFC (Wong et al.)", 17, 791, {anchor: "middle", rot: -90});
// F
T("Pathways associated with", 449, 676, {anchor: "middle"});
T("high SRSq", 449, 690, {anchor: "middle"});
T("Pathways associated with", 725, 676, {anchor: "middle"});
T("low SRSq", 725, 690, {anchor: "middle"});
function log2Title(x, y) {
  const t = ov.append("text").attr("x", x).attr("y", y).attr("text-anchor", "middle").attr("dominant-baseline", "central").attr("font-size", 12.5);
  t.append("tspan").text("log");
  t.append("tspan").attr("font-size", 8.5).attr("dy", 3).text("2");
  t.append("tspan").attr("dy", -3).text("(Fold enrichment)");
}
log2Title(446, 935);
log2Title(722, 935);
L(379, 698, 379, 914.5, {w: 1.2}); L(378.5, 914, 510, 914, {w: 1.2});
L(658, 698, 658, 914.5, {w: 1.2}); L(657.5, 914, 789, 914, {w: 1.2});
</script>
</body></html>
